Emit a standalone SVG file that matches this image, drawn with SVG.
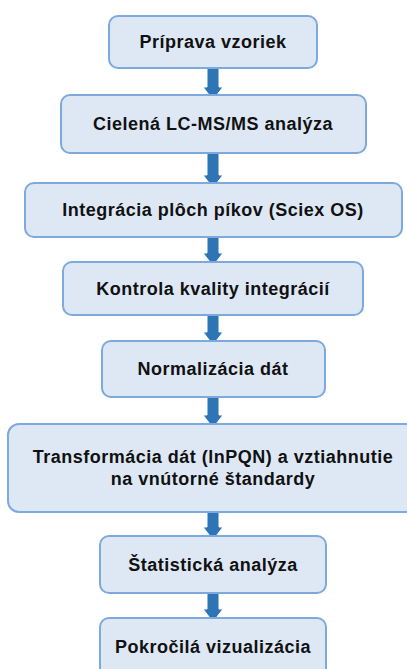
<svg xmlns="http://www.w3.org/2000/svg" width="407" height="669" viewBox="0 0 407 669">
<defs>
<style>
.box{fill:#DEE8F5;stroke:#7DA9DC;stroke-width:2}
.t{font-family:"Liberation Sans",Arial,sans-serif;font-weight:bold;font-size:18px;letter-spacing:0.5px;fill:#111;text-anchor:middle}
.ar{fill:#2E75B6;stroke:#ffffff;stroke-width:1}
</style>
</defs>
<rect width="407" height="669" fill="#ffffff"/>
<g id="connectors">
<path class="ar" d="M207,68 H219 V87 H223 L213,100 L203,87 H207 Z"/>
<path class="ar" d="M207,153 H219 V175 H223 L213,188 L203,175 H207 Z"/>
<path class="ar" d="M207,237 H219 V253 H223 L213,266 L203,253 H207 Z"/>
<path class="ar" d="M207,315 H219 V332 H223 L213,345 L203,332 H207 Z"/>
<path class="ar" d="M207,397 H219 V415 H223 L213,428 L203,415 H207 Z"/>
<path class="ar" d="M207,512 H219 V527 H223 L213,540 L203,527 H207 Z"/>
<path class="ar" d="M207,593 H219 V609 H223 L213,622 L203,609 H207 Z"/>
</g>
<g id="n1"><rect class="box" x="109" y="16" width="208" height="52" rx="9"/><text class="t" x="213" y="48">Príprava vzoriek</text></g>
<g id="n2"><rect class="box" x="61" y="95" width="305" height="58" rx="9"/><text class="t" x="213" y="130">Cielená LC-MS/MS analýza</text></g>
<g id="n3"><rect class="box" x="25" y="183" width="377" height="54" rx="9"/><text class="t" x="213" y="216">Integrácia plôch píkov (Sciex OS)</text></g>
<g id="n4"><rect class="box" x="63" y="262" width="300" height="53" rx="9"/><text class="t" x="213" y="295">Kontrola kvality integrácií</text></g>
<g id="n5"><rect class="box" x="102" y="341" width="223" height="56" rx="9"/><text class="t" x="213" y="375">Normalizácia dát</text></g>
<g id="n6"><rect class="box" x="8" y="424" width="410" height="88" rx="11"/><text class="t" x="213" y="463">Transformácia dát (lnPQN) a vztiahnutie</text><text class="t" x="213" y="485">na vnútorné štandardy</text></g>
<g id="n7"><rect class="box" x="100" y="536" width="226" height="57" rx="9"/><text class="t" x="213" y="571">Štatistická analýza</text></g>
<g id="n8"><rect class="box" x="100" y="618" width="226" height="60" rx="9"/><text class="t" x="213" y="653">Pokročilá vizualizácia</text></g>
</svg>
